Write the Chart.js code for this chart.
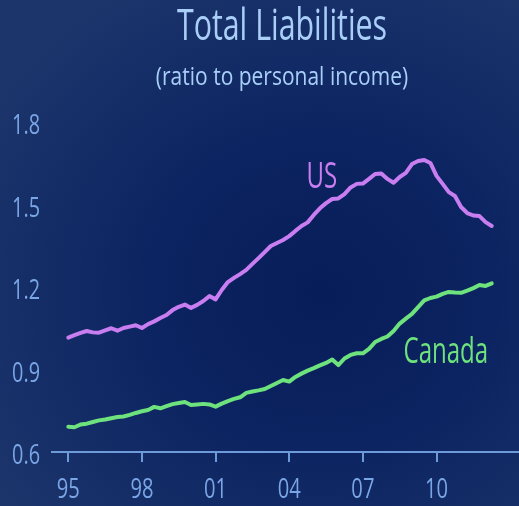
<!DOCTYPE html>
<html>
<head>
<meta charset="utf-8">
<title>Total Liabilities</title>
<script src="https://cdn.jsdelivr.net/npm/chart.js@4.4.1/dist/chart.umd.min.js"></script>
<style>
    html, body {
        margin: 0;
        padding: 0;
        width: 519px;
        height: 506px;
        overflow: hidden;
    }
    body {
        background: radial-gradient(ellipse 75% 70% at 62% 58%, #071d5a 0%, #0c2461 45%, #172f68 80%, #1c356b 100%);
    }
    #chart {
        display: block;
    }
</style>
</head>
<body>
<canvas id="chart" width="519" height="506"></canvas>
<script>
// ============================================
// Data: quarterly, 1995 Q1 - 2012 Q2
// ============================================
var firstYear = 1995;

var usRatio = [
    1.016, 1.025, 1.033, 1.040, 1.035, 1.034, 1.042, 1.050, 1.041, 1.051,
    1.056, 1.061, 1.051, 1.065, 1.075, 1.087, 1.098, 1.116, 1.128, 1.136,
    1.124, 1.135, 1.149, 1.167, 1.155, 1.189, 1.218, 1.233, 1.247, 1.262,
    1.284, 1.305, 1.327, 1.349, 1.360, 1.371, 1.385, 1.404, 1.422, 1.435,
    1.462, 1.486, 1.505, 1.520, 1.522, 1.538, 1.562, 1.575, 1.576, 1.593,
    1.611, 1.613, 1.593, 1.579, 1.600, 1.615, 1.647, 1.658, 1.662, 1.651,
    1.604, 1.575, 1.545, 1.531, 1.491, 1.469, 1.460, 1.458, 1.436, 1.422
];

var canadaRatio = [
    0.692, 0.690, 0.700, 0.703, 0.709, 0.715, 0.718, 0.723, 0.727, 0.729,
    0.735, 0.742, 0.748, 0.753, 0.764, 0.759, 0.767, 0.774, 0.778, 0.782,
    0.771, 0.773, 0.775, 0.773, 0.765, 0.776, 0.785, 0.793, 0.799, 0.815,
    0.820, 0.824, 0.829, 0.840, 0.851, 0.862, 0.856, 0.873, 0.885, 0.896,
    0.905, 0.915, 0.924, 0.936, 0.916, 0.940, 0.953, 0.959, 0.959, 0.975,
    1.000, 1.011, 1.020, 1.040, 1.067, 1.085, 1.102, 1.127, 1.151, 1.160,
    1.165, 1.175, 1.182, 1.180, 1.179, 1.187, 1.196, 1.207, 1.204, 1.213
];

var xTickYears = [1995, 1998, 2001, 2004, 2007, 2010];
var yTickValues = [0.6, 0.9, 1.2, 1.5, 1.8];

var titleText = 'Total Liabilities';
var subtitleText = '(ratio to personal income)';

// quarter positions on the year axis
var quarters = usRatio.map(function(_, i) {
    return firstYear + i / 4;
});

function toPoints(values) {
    return values.map(function(v, i) {
        return { x: quarters[i], y: v };
    });
}

// ============================================
// Styles
// ============================================
var FONT = "'Open Sans', 'DejaVu Sans Condensed', sans-serif";
var US_COLOR = '#c87df0';
var CANADA_COLOR = '#6ee27c';
var TITLE_COLOR = '#a9cff9';
var TICK_COLOR = '#7aa6e6';
var AXIS_COLOR = '#6d9ad8';

// the original uses a condensed face, so text is squeezed horizontally
function drawSqueezed(ctx, text, x, y, size, squeeze, color, align) {
    ctx.save();
    ctx.font = size + 'px ' + FONT;
    ctx.fillStyle = color;
    ctx.textAlign = align || 'center';
    ctx.textBaseline = 'alphabetic';
    ctx.translate(x, y);
    ctx.scale(squeeze, 1);
    ctx.fillText(text, 0, 0);
    ctx.restore();
}

var textLayer = {
    id: 'textLayer',
    afterDraw: function(chart, args, opts) {
        var ctx = chart.ctx;
        var x = chart.scales.x;
        var y = chart.scales.y;

        // title block
        drawSqueezed(ctx, titleText, 282, 40, 44, 0.69, TITLE_COLOR);
        drawSqueezed(ctx, subtitleText, 282, 85, 25, 0.84, TITLE_COLOR);

        // y tick labels
        y.ticks.forEach(function(t) {
            drawSqueezed(ctx, t.value.toFixed(1), 40, y.getPixelForValue(t.value) + 12,
                28, 0.71, TICK_COLOR, 'right');
        });

        // x tick labels
        x.ticks.forEach(function(t) {
            drawSqueezed(ctx, String(t.value % 100).padStart(2, '0'),
                x.getPixelForValue(t.value), 498, 28, 0.72, TICK_COLOR);
        });

        // series names next to the lines
        opts.series.forEach(function(s) {
            drawSqueezed(ctx, s.text, x.getPixelForValue(s.x), y.getPixelForValue(s.y),
                37, 0.65, s.color);
        });
    }
};

new Chart(document.getElementById('chart'), {
    type: 'line',
    data: {
        datasets: [
            {
                label: 'US',
                data: toPoints(usRatio),
                borderColor: US_COLOR,
                borderWidth: 4,
                pointRadius: 0,
                tension: 0,
                borderJoinStyle: 'round',
                borderCapStyle: 'round'
            },
            {
                label: 'Canada',
                data: toPoints(canadaRatio),
                borderColor: CANADA_COLOR,
                borderWidth: 4,
                pointRadius: 0,
                tension: 0,
                borderJoinStyle: 'round',
                borderCapStyle: 'round'
            }
        ]
    },
    options: {
        responsive: false,
        animation: false,
        devicePixelRatio: 1,
        layout: { padding: { top: 122, left: 0, right: 0, bottom: 0 } },
        plugins: {
            legend: { display: false },
            tooltip: { enabled: false },
            title: { display: false },
            textLayer: {
                series: [
                    { text: 'US', x: 2005.33, y: 1.56, color: US_COLOR },
                    { text: 'Canada', x: 2010.38, y: 0.924, color: CANADA_COLOR }
                ]
            }
        },
        scales: {
            x: {
                type: 'linear',
                min: 1994.336,
                max: 2013.36,
                border: { display: true, color: AXIS_COLOR, width: 2 },
                grid: {
                    display: true,
                    drawOnChartArea: false,
                    drawTicks: true,
                    tickLength: 10,
                    color: AXIS_COLOR,
                    lineWidth: 2
                },
                ticks: { display: false },
                afterBuildTicks: function(scale) {
                    scale.ticks = xTickYears.map(function(v) { return { value: v }; });
                },
                afterFit: function(scale) {
                    scale.height = 54;
                }
            },
            y: {
                min: 0.6,
                max: 1.8,
                border: { display: false },
                grid: { display: false },
                ticks: { display: false },
                afterBuildTicks: function(scale) {
                    scale.ticks = yTickValues.map(function(v) { return { value: v }; });
                },
                afterFit: function(scale) {
                    scale.width = 52;
                }
            }
        }
    },
    plugins: [textLayer]
});
</script>
</body>
</html>
